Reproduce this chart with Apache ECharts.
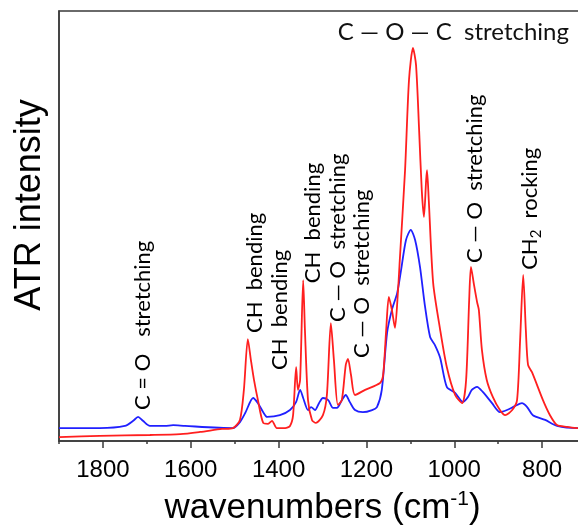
<!DOCTYPE html>
<html>
<head>
<meta charset="utf-8">
<script src="https://cdn.jsdelivr.net/npm/echarts@6/dist/echarts.min.js"></script>
<style>
  html, body { margin: 0; padding: 0; background: #fff; }
  #chart { width: 578px; height: 526px; }
</style>
</head>
<body>
<div id="chart"></div>
<script>
// red spectrum (wavenumber, intensity)
const redWn = [1900, 1807, 1693, 1624, 1579, 1529, 1504, 1488, 1479, 1470, 1463, 1456, 1447, 1435, 1424, 1415, 1404, 1385, 1374, 1367, 1360, 1356, 1351, 1344, 1340, 1333, 1324, 1315, 1299, 1290, 1281, 1274, 1265, 1256, 1247, 1242, 1235, 1226, 1203, 1169, 1162, 1155, 1149, 1142, 1135, 1128, 1124, 1112, 1103, 1094, 1087, 1080, 1074, 1069, 1064, 1062, 1058, 1048, 1032, 1017, 998, 982, 973, 966, 962, 955, 948, 944, 937, 926, 912, 896, 884, 868, 857, 850, 843, 837, 832, 823, 798, 782, 766, 743, 718, 700];
const redVal = [0.9, 1.2, 1.4, 1.6, 2.1, 2.8, 3.0, 4.9, 11.9, 23.7, 18.8, 14.2, 9.5, 4.2, 4.0, 4.7, 3.0, 3.0, 3.5, 6.0, 17.2, 11.9, 14.2, 37.4, 25.8, 9.5, 4.9, 4.2, 6.0, 10.7, 27.4, 18.8, 8.4, 9.5, 17.7, 19.1, 15.3, 10.7, 11.9, 13.5, 15.3, 25.8, 33.5, 30.5, 26.3, 35.1, 42.1, 63.0, 84.0, 91.4, 87.4, 72.3, 58.4, 52.1, 60.7, 63.0, 56.0, 36.7, 25.8, 17.2, 10.7, 8.8, 14.2, 32.8, 40.5, 36.3, 32.3, 30.5, 21.2, 14.2, 10.2, 7.2, 6.0, 7.2, 9.5, 23.5, 38.6, 25.8, 17.7, 16.0, 9.5, 6.0, 3.7, 3.3, 3.0, 3.0];

// blue spectrum
const blueWn = [1900, 1807, 1750, 1731, 1720, 1709, 1693, 1659, 1640, 1613, 1504, 1488, 1476, 1458, 1447, 1435, 1426, 1397, 1374, 1360, 1351, 1344, 1333, 1326, 1317, 1308, 1299, 1287, 1276, 1267, 1256, 1247, 1238, 1226, 1208, 1187, 1176, 1165, 1153, 1142, 1130, 1121, 1110, 1099, 1089, 1078, 1067, 1055, 1044, 1032, 1017, 998, 980, 969, 960, 948, 935, 914, 896, 880, 862, 846, 834, 821, 793, 766, 718, 700];
const blueVal = [3.0, 3.0, 3.5, 4.7, 5.6, 4.7, 3.5, 3.5, 3.7, 3.5, 3.0, 4.4, 6.5, 10.0, 8.8, 6.7, 5.6, 6.0, 7.2, 9.1, 11.9, 10.0, 7.2, 7.9, 7.2, 8.8, 10.0, 9.5, 7.7, 7.7, 9.5, 10.7, 9.1, 7.2, 6.7, 7.2, 7.9, 11.9, 25.1, 30.5, 34.4, 39.8, 46.7, 49.1, 46.7, 40.5, 31.6, 24.2, 22.3, 19.3, 12.6, 11.2, 9.1, 10.2, 11.9, 12.6, 11.4, 8.8, 6.7, 7.2, 8.1, 8.8, 7.9, 6.0, 4.9, 3.5, 3.0, 3.0];

// band assignments: wavenumber, intensity level where the label starts, text
const bandWn = [1709, 1454, 1397, 1322, 1265, 1210, 953, 828];
const bandLevel = [7.2, 25.1, 16.5, 36.7, 27.7, 19.3, 41.4, 39.8];
const bandText = [
  '{a|C = O   stretching}',
  '{a|CH  bending}',
  '{a|CH  bending}',
  '{a|CH  bending}',
  '{a|C — O  stretching}',
  '{a|C — O  stretching}',
  '{a|C — O  stretching}',
  '{a|CH}{s|2}{a|  rocking}'
];
const topLabel = [1265, 95.1, 'C — O — C  stretching'];

const xTicks = [600, 800, 1000, 1200, 1400, 1600, 1800];

const chart = echarts.init(document.getElementById('chart'));
const pxPerUnit = 527 / 1200;
const frame = '#3a3a3a';
const labelFont = 'Lato';

const option = {
  animation: false,
  grid: [
    { left: 59, top: 11, width: 527, height: 430, outerBoundsMode: 'none', show: true, borderColor: frame, borderWidth: 1.5 },
    { left: 59 + 100 * pxPerUnit, top: 11, width: 1200 * pxPerUnit, height: 430, outerBoundsMode: 'none' }
  ],
  xAxis: [
    {
      gridIndex: 0,
      type: 'value',
      inverse: true,
      min: 700,
      max: 1900,
      interval: 100,
      axisLine: { show: true, lineStyle: { color: frame, width: 1.5 } },
      axisTick: { show: true, length: 3, lineStyle: { color: frame, width: 1.5 } },
      axisLabel: { show: false },
      splitLine: { show: false },
      name: '{a|wavenumbers (cm}{sup|-1}{a|)}',
      nameLocation: 'middle',
      nameGap: 48,
      nameTextStyle: {
        rich: {
          a: { fontFamily: 'Liberation Sans', fontSize: 35, color: '#000' },
          sup: { fontFamily: 'Liberation Sans', fontSize: 21, color: '#000', padding: [0, 0, 18, 0] }
        }
      }
    },
    {
      gridIndex: 1,
      type: 'value',
      inverse: true,
      min: xTicks[0],
      max: xTicks[xTicks.length - 1],
      interval: 200,
      axisLine: { show: false },
      axisTick: { show: true, length: 7, lineStyle: { color: frame, width: 1.5 } },
      axisLabel: {
        margin: 17,
        fontFamily: 'Liberation Sans',
        fontSize: 24,
        color: '#000',
        formatter: (v) => String(v)
      },
      splitLine: { show: false }
    }
  ],
  yAxis: [
    {
      gridIndex: 0,
      type: 'value',
      min: 0,
      max: 100,
      axisLine: { show: true, lineStyle: { color: frame, width: 1.5 } },
      axisTick: { show: false },
      axisLabel: { show: false },
      splitLine: { show: false }
    },
    { gridIndex: 1, type: 'value', min: 0, max: 100, show: false }
  ],
  series: [
    {
      name: 'blue',
      type: 'line',
      xAxisIndex: 0,
      yAxisIndex: 0,
      data: blueWn.map((w, i) => [w, blueVal[i]]),
      showSymbol: false,
      smooth: 0.25,
      lineStyle: { color: '#2020ff', width: 1.8 }
    },
    {
      name: 'red',
      type: 'line',
      xAxisIndex: 0,
      yAxisIndex: 0,
      data: redWn.map((w, i) => [w, redVal[i]]),
      showSymbol: false,
      smooth: 0.25,
      lineStyle: { color: '#ff1f1f', width: 1.8 }
    }
  ]
};

chart.setOption(option);

// labels placed from data coordinates
const rich = {
  a: { fontFamily: labelFont, fontSize: 22, color: '#111' },
  s: { fontFamily: labelFont, fontSize: 15, color: '#111', padding: [12, 0, 0, 0] }
};
const graphics = [];
bandWn.forEach((w, i) => {
  const p = chart.convertToPixel({ gridIndex: 0 }, [w, bandLevel[i]]);
  graphics.push({
    type: 'text',
    x: p[0],
    y: p[1],
    rotation: Math.PI / 2,
    style: { text: bandText[i], rich: rich, align: 'left', verticalAlign: 'middle' }
  });
});
const tp = chart.convertToPixel({ gridIndex: 0 }, [topLabel[0], topLabel[1]]);
graphics.push({
  type: 'text',
  x: tp[0],
  y: tp[1],
  style: { text: topLabel[2], fontFamily: labelFont, fontSize: 24, fill: '#111', align: 'left', verticalAlign: 'middle' }
});
graphics.push({
  type: 'text',
  x: 30,
  y: 205,
  rotation: Math.PI / 2,
  style: { text: 'ATR intensity', fontFamily: 'Liberation Sans', fontSize: 36, fill: '#000', align: 'center', verticalAlign: 'middle' }
});
chart.setOption({ graphic: graphics });
</script>
</body>
</html>
